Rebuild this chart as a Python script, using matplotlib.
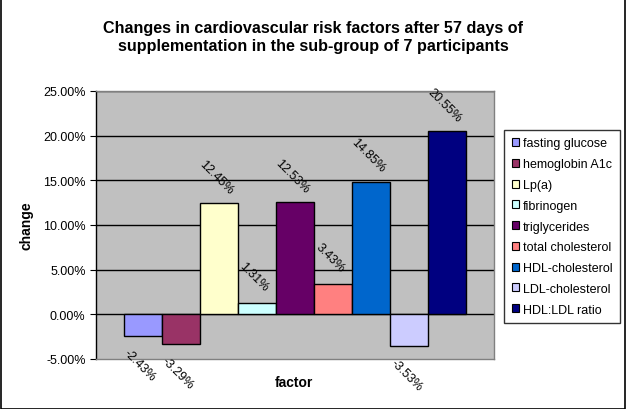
import matplotlib
matplotlib.use("Agg")
import matplotlib.pyplot as plt
from matplotlib.patches import Rectangle, Patch
from matplotlib.ticker import FuncFormatter

# === Data ===
factors = ["fasting glucose", "hemoglobin A1c", "Lp(a)", "fibrinogen",
           "triglycerides", "total cholesterol", "HDL-cholesterol",
           "LDL-cholesterol", "HDL:LDL ratio"]
changes = [-2.43, -3.29, 12.45, 1.31, 12.53, 3.43, 14.85, -3.53, 20.55]
colors = ["#9999FF", "#993366", "#FFFFCC", "#CCFFFF", "#660066",
          "#FF8080", "#0066CC", "#CCCCFF", "#000080"]
y_ticks = [-5, 0, 5, 10, 15, 20, 25]

plt.rcParams["font.family"] = ["Liberation Sans", "DejaVu Sans"]

fig = plt.figure(figsize=(6.26, 4.10), dpi=100)
ax = fig.add_axes([96 / 626, 1 - 360 / 410, 398 / 626, 268 / 410])
ax.set_facecolor("#C0C0C0")

# gridlines
for t in y_ticks[1:]:
    ax.axhline(t, color="black", lw=1, zorder=1)

positions = list(range(len(changes)))
bars = ax.bar(positions, changes, width=1.0, color=colors,
              edgecolor="black", linewidth=1, zorder=2)

# data labels
for x, v in zip(positions, changes):
    off = 19 if v >= 0 else -21
    ax.annotate(f"{v:.2f}%", (x, v), xytext=(-2, off), textcoords="offset points",
                ha="center", va="center", rotation=-45, fontsize=9,
                annotation_clip=False, zorder=3)

ax.set_xlim(-0.5 - 0.725, 8.5 + 0.725)
ax.set_ylim(-5, 25)
ax.set_yticks(y_ticks)
ax.yaxis.set_major_formatter(FuncFormatter(lambda v, p: f"{v:.2f}%"))
ax.tick_params(axis="y", direction="out", length=4, labelsize=9, color="black")
ax.set_xticks([])

for name, sp in ax.spines.items():
    sp.set_color("#808080")
    sp.set_linewidth(1)
ax.spines["left"].set_color("black")

fig.text(0.5, 1 - 37.5 / 410,
         "Changes in cardiovascular risk factors after 57 days of\n"
         "supplementation in the sub-group of 7 participants",
         ha="center", va="center", fontsize=11.6, fontweight="bold", linespacing=1.3)
fig.text(27 / 626, 1 - 226 / 410, "change", rotation=90, ha="center", va="center",
         fontsize=10, fontweight="bold")
fig.text(294 / 626, 1 - 383 / 410, "factor", ha="center", va="center",
         fontsize=10, fontweight="bold")

handles = [Patch(facecolor=c, edgecolor="black", linewidth=0.8) for c in colors]
leg = fig.legend(handles, factors, loc="upper left",
                 bbox_to_anchor=(504 / 626, 1 - 131 / 410),
                 fontsize=9, frameon=True, fancybox=False, edgecolor="black",
                 handlelength=0.6, handleheight=0.6, handletextpad=0.3,
                 labelspacing=0.7, borderpad=0.6, borderaxespad=0)
leg.get_frame().set_linewidth(1)

# outer border
fig.patches.append(Rectangle((0.0008, 0.0012), 0.9984, 0.9976, transform=fig.transFigure,
                             fill=False, edgecolor="black", linewidth=1.2))

fig.savefig("out.png", dpi=100)
